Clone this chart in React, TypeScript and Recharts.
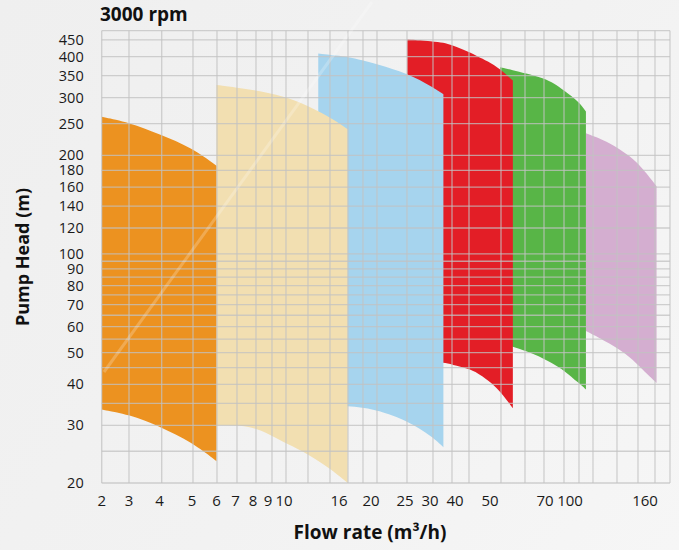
import { Area, CartesianGrid, ComposedChart, XAxis, YAxis } from 'recharts'

// Axes
const xTicks = [2, 3, 4, 5, 6, 7, 8, 9, 10, 16, 20, 25, 30, 40, 50, 70, 100, 160]
const yTicks = [20, 30, 40, 50, 60, 70, 80, 90, 100, 120, 140, 160, 180, 200, 250, 300, 350, 400, 450]
const yMinorTicks = [25, 35, 45, 55, 65, 75, 85, 95, 480]

// Pump ranges: flow (m3/h), upper head and lower head (m)
const orangeFlow = [2, 3, 4, 5, 6]
const orangeTop = [262, 252, 232, 211, 186]
const orangeBottom = [33.5, 32.4, 29.8, 26.6, 23.3]

const beigeFlow = [6, 7, 8, 9, 10, 11.5, 14.8, 17]
const beigeTop = [328, 322, 317, 310, 302, 290, 262, 240]
const beigeBottom = [30, 30, 29.6, 28.3, 26.6, 25.3, 22.2, 20]

const blueFlow = [13.4, 14.8, 17, 18.8, 20.8, 25.4, 31, 35]
const blueTop = [409, 405, 400, 390, 380, 356, 323, 307]
const blueBottom = [34.5, 34.4, 34.3, 34, 33.4, 31, 27.6, 25.7]

const redFlow = [25.4, 31, 35, 38.6, 43.7, 46.2, 49.2, 53.2, 57.5]
const redTop = [451, 446, 441, 434, 413, 401, 388, 367, 338]
const redBottom = [47, 46.8, 46.6, 46, 44.6, 43.3, 41.3, 38.2, 33.8]

const greenFlow = [53.2, 57.5, 62, 69.5, 80, 91.4, 105.8, 110.5]
const greenTop = [371, 364, 356, 344, 331, 316, 291, 272]
const greenBottom = [53, 52.3, 50.6, 48, 46, 44.2, 40.3, 38.6]

const pinkFlow = [110.5, 128.5, 145.7, 158, 172]
const pinkTop = [233.5, 219, 199, 182, 161]
const pinkBottom = [58.2, 53.3, 48.6, 44.2, 40.4]

// layout of the (non-uniform) flow axis, in px from the plot's left edge
const PLOT_LEFT = 101.7
const xTickPx = [101.7, 129, 159.5, 192, 216.5, 235.5, 253, 268, 284, 339, 371, 405, 430, 455, 490, 545, 570, 645]
const gridX = [101.7, 129, 161.7, 193, 217, 237, 256, 272, 286, 308, 330, 348, 363, 377, 407, 433, 452, 469, 501, 525, 544, 564, 579, 593, 617, 638, 655, 670]

const font = '"Open Sans", sans-serif'

// flow -> axis position (piecewise log between the printed ticks)
const pos = (f: number) => {
  let i = 0
  while (i < xTicks.length - 2 && f > xTicks[i + 1]) i++
  const a = Math.log(xTicks[i])
  const b = Math.log(xTicks[i + 1])
  const t = (Math.log(f) - a) / (b - a)
  return xTickPx[i] + t * (xTickPx[i + 1] - xTickPx[i]) - PLOT_LEFT
}

const band = (flow: number[], top: number[], bottom: number[]) =>
  flow.map((f, i) => ({ x: pos(f), v: [bottom[i], top[i]] }))

const pumps = [
  { name: 'pink', color: '#D4AED0', data: band(pinkFlow, pinkTop, pinkBottom) },
  { name: 'green', color: '#58B547', data: band(greenFlow, greenTop, greenBottom) },
  { name: 'red', color: '#E31E26', data: band(redFlow, redTop, redBottom) },
  { name: 'blue', color: '#A6D4EE', data: band(blueFlow, blueTop, blueBottom) },
  { name: 'beige', color: '#F2DFB1', data: band(beigeFlow, beigeTop, beigeBottom) },
  { name: 'orange', color: '#EC9220', data: band(orangeFlow, orangeTop, orangeBottom) },
]

const allY = [...yTicks, ...yMinorTicks].sort((a, b) => a - b)

export default function App() {
  return (
    <div
      style={{
        position: 'absolute',
        left: 0,
        top: 0,
        width: 679,
        height: 550,
        background: 'linear-gradient(125deg, #efefef 0%, #f2f2f2 55%, #f6f6f6 100%)',
        fontFamily: font,
        overflow: 'hidden',
      }}
    >
      <div style={{ position: 'absolute', left: 100, top: 1, fontSize: 19, fontWeight: 700, color: '#111' }}>
        3000 rpm
      </div>
      <div
        style={{
          position: 'absolute',
          left: 22 - 100,
          top: 257 - 13,
          width: 200,
          lineHeight: '26px',
          textAlign: 'center',
          transform: 'rotate(-90deg)',
          fontSize: 18,
          fontWeight: 700,
          color: '#111',
        }}
      >
        Pump Head (m)
      </div>
      <div
        style={{
          position: 'absolute',
          left: 370 - 120,
          top: 532 - 14,
          width: 240,
          lineHeight: '28px',
          textAlign: 'center',
          fontSize: 19,
          fontWeight: 700,
          color: '#111',
        }}
      >
        Flow rate (m³/h)
      </div>
      <ComposedChart
        width={679}
        height={550}
        margin={{ top: 30.7, right: 9, bottom: 27, left: 11.7 }}
        style={{ position: 'absolute', left: 0, top: 0 }}
      >
        {pumps.map((p) => (
          <Area
            key={p.name}
            data={p.data}
            dataKey="v"
            type="basis"
            fill={p.color}
            fillOpacity={1}
            stroke="none"
            isAnimationActive={false}
          />
        ))}
        <CartesianGrid
          stroke="#c2c2c2"
          strokeOpacity={0.75}
          strokeWidth={1.3}
          verticalPoints={gridX}
          zIndex={500}
        />
        <XAxis
          type="number"
          dataKey="x"
          domain={[0, 670 - PLOT_LEFT]}
          allowDataOverflow
          ticks={xTicks.map(pos)}
          tickFormatter={(_v: number, i: number) => String(xTicks[i])}
          interval={0}
          height={40}
          axisLine={false}
          tickLine={false}
          tickSize={0}
          tickMargin={12}
          tick={{ fill: '#1a1a1a', fontSize: 15, fontFamily: font }}
        />
        <YAxis
          type="number"
          scale="log"
          domain={[20, 480]}
          allowDataOverflow
          ticks={allY}
          tickFormatter={(v: number) => (yTicks.includes(v) ? String(v) : '')}
          interval={0}
          width={90}
          axisLine={false}
          tickLine={false}
          tickSize={0}
          tickMargin={18}
          tick={{ fill: '#1a1a1a', fontSize: 14.5, fontFamily: font }}
        />
      </ComposedChart>
      <svg
        width={679}
        height={550}
        style={{ position: 'absolute', left: 0, top: 0, pointerEvents: 'none' }}
      >
        <line x1={104} y1={372} x2={372} y2={2} stroke="#ffffff" strokeOpacity={0.22} strokeWidth={3} />
      </svg>
    </div>
  )
}
